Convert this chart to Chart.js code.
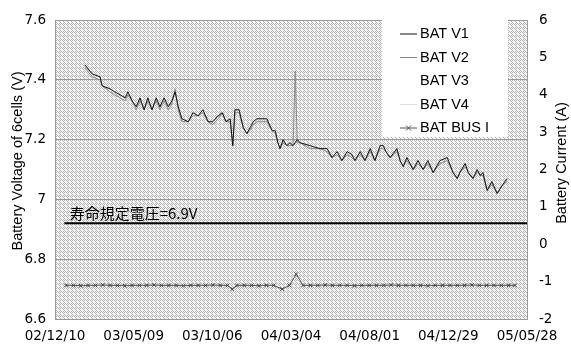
<!DOCTYPE html>
<html><head><meta charset="utf-8">
<script src="https://cdn.jsdelivr.net/npm/chart.js@4/dist/chart.umd.min.js"></script>
<style>html,body{margin:0;padding:0;background:#fff}</style>
</head><body>
<canvas id="c" width="571" height="345"></canvas>
<script>
// ---- data ----
const xTickLabels = ['02/12/10','03/05/09','03/10/06','04/03/04','04/08/01','04/12/29','05/05/28'];
// days since 02/12/10
const vDays = [57,71,86,90,105,114,124,134,139,147,155,162,170,177,185,193,200,208,216,223,229,235,242,254,263,273,282,292,301,311,319,326,334,339,343,351,359,366,372,378,385,404,414,420,425,429,435,442,448,454,458,462,467,486,505,519,528,538,547,557,566,572,582,591,601,610,620,626,631,639,652,658,664,671,683,692,702,711,721,734,748,759,767,772,782,788,797,805,811,816,824,833,843,854,862];
const batV1 = [7.45,7.42,7.41,7.38,7.37,7.36,7.35,7.34,7.36,7.33,7.31,7.34,7.30,7.34,7.30,7.34,7.31,7.34,7.31,7.33,7.36,7.31,7.27,7.26,7.29,7.28,7.30,7.26,7.26,7.28,7.29,7.26,7.27,7.18,7.30,7.30,7.24,7.22,7.24,7.26,7.27,7.27,7.23,7.23,7.19,7.17,7.20,7.18,7.19,7.18,7.19,7.20,7.19,7.18,7.17,7.17,7.14,7.16,7.13,7.16,7.15,7.13,7.16,7.13,7.17,7.13,7.18,7.18,7.16,7.14,7.17,7.13,7.11,7.14,7.10,7.13,7.10,7.13,7.09,7.13,7.14,7.09,7.07,7.09,7.12,7.09,7.07,7.10,7.08,7.09,7.03,7.06,7.02,7.05,7.07];
const batV2 = [7.44,7.41,7.40,7.38,7.36,7.35,7.34,7.33,7.35,7.33,7.30,7.33,7.30,7.33,7.30,7.33,7.30,7.33,7.30,7.32,7.37,7.30,7.26,7.26,7.28,7.28,7.29,7.26,7.25,7.27,7.29,7.26,7.26,7.18,7.29,7.29,7.24,7.22,7.23,7.25,7.26,7.26,7.23,7.22,7.19,7.17,7.19,7.18,7.18,7.18,7.43,7.19,7.19,7.17,7.17,7.16,7.14,7.15,7.13,7.15,7.14,7.13,7.15,7.13,7.16,7.13,7.17,7.17,7.16,7.14,7.16,7.13,7.11,7.13,7.10,7.12,7.10,7.12,7.09,7.12,7.13,7.09,7.07,7.09,7.11,7.09,7.07,7.09,7.08,7.08,7.03,7.05,7.02,7.05,7.06];
const batV3 = [];
const batV4 = [];
const iDays = [21,35,49,63,77,91,105,119,133,147,161,175,189,203,217,231,245,259,273,287,301,315,329,338,347,361,375,389,403,417,433,447,460,473,487,501,515,529,543,557,571,585,599,613,627,641,655,669,683,697,711,725,739,753,767,781,795,809,823,837,851,865,877];
const batBusI = [-1.1,-1.1,-1.11,-1.1,-1.1,-1.09,-1.1,-1.1,-1.11,-1.1,-1.1,-1.1,-1.09,-1.1,-1.1,-1.1,-1.11,-1.1,-1.1,-1.1,-1.09,-1.1,-1.1,-1.2,-1.1,-1.1,-1.1,-1.11,-1.1,-1.1,-1.2,-1.1,-0.8,-1.1,-1.1,-1.1,-1.09,-1.1,-1.1,-1.1,-1.11,-1.1,-1.1,-1.1,-1.1,-1.09,-1.1,-1.1,-1.1,-1.1,-1.11,-1.1,-1.1,-1.1,-1.1,-1.1,-1.09,-1.1,-1.1,-1.1,-1.1,-1.1,-1.1];
const limitDays = [18, 900];
const limitV = [6.92, 6.92];
const limitText = '寿命規定電圧=6.9V';
const leftTitle = 'Battery Voltage of 6cells (V)';
const rightTitle = 'Battery Current (A)';

const pts = (xs, ys) => xs.map((x, i) => ({x, y: ys[i]}));

// dither pattern for plot area
const pc = document.createElement('canvas');
pc.width = 4; pc.height = 4;
const pctx = pc.getContext('2d');
pctx.fillStyle = '#f4f4f4'; pctx.fillRect(0,0,4,4);
pctx.fillStyle = '#b4b4b4';
[[0,0],[2,0],[1,1],[3,1],[0,2],[2,2],[1,3],[3,3]].forEach(([a,b],k)=>{ if(k!==5 && k!==2) pctx.fillRect(a,b,1,1); });

const bgPlugin = {
  id: 'bg',
  beforeDraw(chart) {
    const {ctx, chartArea: a} = chart;
    ctx.save();
    ctx.fillStyle = ctx.createPattern(pc, 'repeat');
    ctx.fillRect(a.left, a.top, a.right - a.left, a.bottom - a.top);
    ctx.restore();
  }
};

const textPlugin = {
  id: 'texts',
  afterDraw(chart) {
    const {ctx, chartArea: a, scales} = chart;
    ctx.save();
    ctx.fillStyle = '#000';
    ctx.font = '14.5px "Liberation Sans", Arial, sans-serif';
    ctx.textAlign = 'center';
    ctx.textBaseline = 'middle';
    ctx.save(); ctx.translate(18, 161); ctx.rotate(-Math.PI/2); ctx.fillText(leftTitle, 0, 0); ctx.restore();
    ctx.save(); ctx.translate(562, 163); ctx.rotate(-Math.PI/2); ctx.fillText(rightTitle, 0, 0); ctx.restore();
    // limit label
    ctx.font = '15px "Noto Sans CJK JP", sans-serif';
    ctx.textAlign = 'left';
    ctx.textBaseline = 'alphabetic';
    ctx.fillText(limitText, scales.x.getPixelForValue(28), scales.yV.getPixelForValue(limitV[0]) - 4);
    // legend box
    const bx = 382, by = 17, bw = 126, bh = 120;
    ctx.fillStyle = '#fff';
    ctx.fillRect(bx, by, bw, bh);
    ctx.font = '14.5px "Liberation Sans", Arial, sans-serif';
    ctx.textBaseline = 'middle';
    const items = chart.data.datasets.filter(d => !d.hideLegend);
    items.forEach((d, i) => {
      const y = 34 + i * 23.5;
      ctx.strokeStyle = d.borderColor;
      ctx.lineWidth = d.borderWidth;
      ctx.beginPath(); ctx.moveTo(400, y); ctx.lineTo(417, y); ctx.stroke();
      if (d.pointRadius > 0) {
        ctx.lineWidth = 1;
        const r = 2.5;
        ctx.beginPath();
        ctx.moveTo(408.5 - r, y - r); ctx.lineTo(408.5 + r, y + r);
        ctx.moveTo(408.5 - r, y + r); ctx.lineTo(408.5 + r, y - r);
        ctx.stroke();
      }
      ctx.fillStyle = '#000';
      ctx.fillText(d.label, 420, y);
    });
    ctx.restore();
  }
};

const tickFont = {family: '"DejaVu Sans", sans-serif', size: 13.5};

new Chart(document.getElementById('c'), {
  type: 'line',
  data: {
    datasets: [
      {label: 'BAT V1', data: pts(vDays, batV1), yAxisID: 'yV', borderColor: '#111', borderWidth: 1, pointRadius: 0, tension: 0},
      {label: 'BAT V2', data: pts(vDays, batV2), yAxisID: 'yV', borderColor: '#8a8a8a', borderWidth: 1, pointRadius: 0, tension: 0},
      {label: 'BAT V3', data: batV3, yAxisID: 'yV', borderColor: '#ffffff', borderWidth: 1, pointRadius: 0},
      {label: 'BAT V4', data: batV4, yAxisID: 'yV', borderColor: '#dddddd', borderWidth: 1, pointRadius: 0},
      {label: 'BAT BUS I', data: pts(iDays, batBusI), yAxisID: 'yI', borderColor: '#555', borderWidth: 1, pointRadius: 2.5, pointStyle: 'crossRot', pointBorderWidth: 1, pointBorderColor: '#444', tension: 0},
      {label: '寿命規定電圧', hideLegend: true, data: pts(limitDays, limitV), yAxisID: 'yV', borderColor: '#000', borderWidth: 2, pointRadius: 0}
    ]
  },
  options: {
    responsive: false,
    animation: false,
    devicePixelRatio: 1,
    layout: {padding: {top: 17, left: 0, right: 0, bottom: 0}},
    plugins: {legend: {display: false}, tooltip: {enabled: false}},
    scales: {
      x: {
        type: 'linear', min: 0, max: 900,
        ticks: {stepSize: 150, autoSkip: false, maxRotation: 0, padding: 9, color: '#000', font: tickFont,
          callback: v => xTickLabels[Math.round(v / 150)]},
        grid: {display: false, drawTicks: false},
        border: {display: true, color: '#999'},
        afterFit(s) { s.height = 26; }
      },
      yV: {
        position: 'left', min: 6.6, max: 7.6,
        ticks: {stepSize: 0.2, padding: 9, color: '#000', font: tickFont, callback: v => String(+v.toFixed(1))},
        grid: {color: '#999', drawTicks: false},
        border: {display: true, color: '#999'},
        afterFit(s) { s.width = 55; }
      },
      yI: {
        position: 'right', min: -2, max: 6,
        ticks: {stepSize: 1, padding: 12, color: '#000', font: tickFont},
        grid: {display: false, drawTicks: false},
        border: {display: true, color: '#999'},
        afterFit(s) { s.width = 44; }
      }
    }
  },
  plugins: [bgPlugin, textPlugin]
});
</script>
</body></html>
